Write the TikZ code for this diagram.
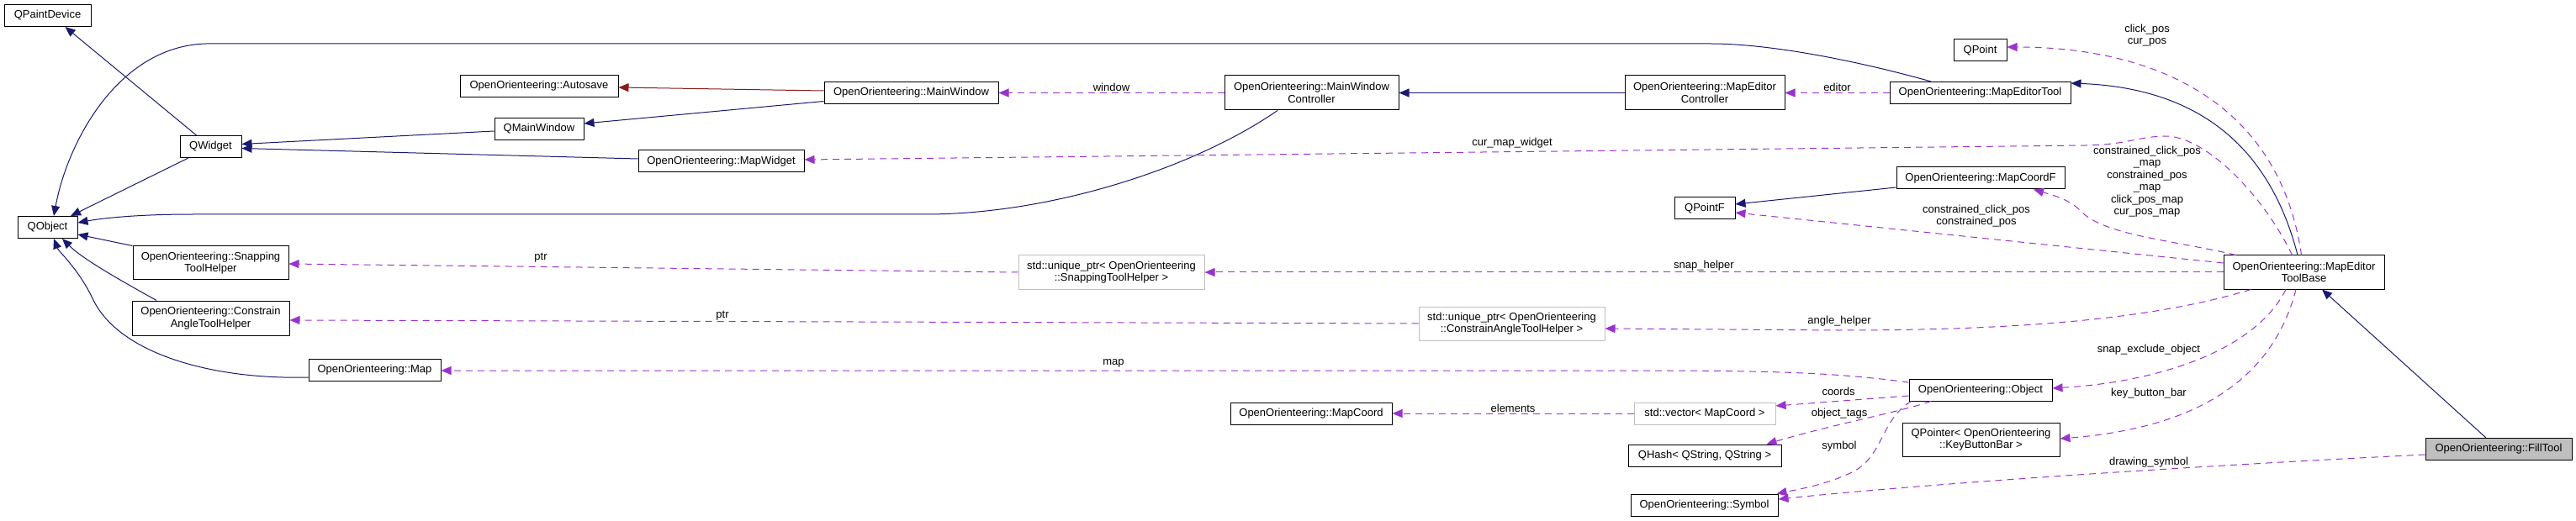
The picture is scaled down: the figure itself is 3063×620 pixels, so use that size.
\documentclass[tikz,border=0pt]{standalone}
\usepackage{fontspec}
\setmainfont{Liberation Sans}
\usetikzlibrary{arrows.meta,calc}
\definecolor{navyline}{HTML}{191970}
\definecolor{orchidline}{HTML}{9A32CD}
\definecolor{redline}{HTML}{8B1A1A}
\definecolor{greyborder}{HTML}{BFBFBF}
\newcommand{\fs}{\fontsize{13}{14.5}\selectfont}
\tikzset{
  box/.style={draw=black, fill=white, line width=1pt, inner sep=0pt, align=center, minimum height=26pt, font=\fs},
  boxtwo/.style={box, minimum height=41pt},
  gbox/.style={boxtwo, draw=greyborder},
  inh/.style={draw=navyline, line width=1pt, -{Triangle[length=12pt,width=10pt]}},
  priv/.style={draw=redline, line width=1pt, -{Triangle[length=12pt,width=10pt]}},
  use/.style={draw=orchidline, line width=1pt, dash pattern=on 8pt off 6pt, -{Triangle[length=12pt,width=10pt]}},
  lab/.style={font=\fs, inner sep=1pt, align=center}
}
\begin{document}
\begin{tikzpicture}[x=1pt,y=-1pt]
\useasboundingbox (0,0) rectangle (3063,620);
% nodes
\node[box, minimum width=103pt] (qpd) at (56.5,18.5) {QPaintDevice};
\node[box, minimum width=73pt] (qwidget) at (250.5,174.5) {QWidget};
\node[box, minimum width=71pt] (qobject) at (56.5,270.5) {QObject};
\node[box, minimum width=188pt] (autosave) at (641,102.5) {OpenOrienteering::Autosave};
\node[box, minimum width=106pt] (qmainwindow) at (641,153.5) {QMainWindow};
\node[box, minimum width=197pt] (mapwidget) at (857.5,192) {OpenOrienteering::MapWidget};
\node[boxtwo, minimum width=185pt, minimum height=40pt] (snaphelper) at (250.5,313) {OpenOrienteering::Snapping\\ToolHelper};
\node[boxtwo, minimum width=187pt] (constrainhelper) at (250.5,378.5) {OpenOrienteering::Constrain\\AngleToolHelper};
\node[box, minimum width=157pt] (map) at (445.5,440) {OpenOrienteering::Map};
\node[box, minimum width=207pt] (mainwindow) at (1083.5,110.5) {OpenOrienteering::MainWindow};
\node[boxtwo, minimum width=207pt] (mwc) at (1559.5,110.5) {OpenOrienteering::MainWindow\\Controller};
\node[gbox, minimum width=221pt, minimum height=40pt] (uptrsnap) at (1321.5,324) {std::unique\_ptr< OpenOrienteering\\::SnappingToolHelper >};
\node[box, minimum width=192pt] (mapcoord) at (1559,492) {OpenOrienteering::MapCoord};
\node[boxtwo, minimum width=190pt] (mec) at (2027,110.5) {OpenOrienteering::MapEditor\\Controller};
\node[box, minimum width=215pt] (met) at (2354.5,110.5) {OpenOrienteering::MapEditorTool};
\node[box, minimum width=63pt] (qpoint) at (2354.5,60) {QPoint};
\node[box, minimum width=200pt] (mapcoordf) at (2355,212) {OpenOrienteering::MapCoordF};
\node[box, minimum width=72pt] (qpointf) at (2027,248) {QPointF};
\node[gbox, minimum width=221pt, minimum height=40pt] (uptrconstrain) at (1797.5,385) {std::unique\_ptr< OpenOrienteering\\::ConstrainAngleToolHelper >};
\node[box, minimum width=170pt] (object) at (2355,464) {OpenOrienteering::Object};
\node[box, draw=greyborder, minimum width=168pt] (vector) at (2027,492) {std::vector< MapCoord >};
\node[box, minimum width=182pt] (qhash) at (2027,542) {QHash< QString, QString >};
\node[box, minimum width=175pt] (symbol) at (2026.5,601) {OpenOrienteering::Symbol};
\node[boxtwo, minimum width=187pt, minimum height=40pt] (keybar) at (2355.5,523) {QPointer< OpenOrienteering\\::KeyButtonBar >};
\node[boxtwo, minimum width=191pt, minimum height=40pt] (metb) at (2739.5,324) {OpenOrienteering::MapEditor\\ToolBase};
\node[box, fill=greyborder, minimum width=174pt] (filltool) at (2971,534.5) {OpenOrienteering::FillTool};
% inheritance
\draw[inh] ($(qwidget.north)+(-17,0)$) -- ($(qpd.south)+(21,0)$);
\draw[inh] ($(qwidget.south)+(-26.5,0)$) -- ($(qobject.north)+(27.5,0)$);
\draw[inh] ($(qmainwindow.west)+(0,2.5)$) -- ($(qwidget.east)+(0,-3)$);
\draw[inh] ($(mapwidget.west)+(0,-3)$) -- ($(qwidget.east)+(0,2)$);
\draw[inh] ($(mainwindow.west)+(0,10)$) -- ($(qmainwindow.east)+(0,-6.5)$);
\draw[priv] ($(mainwindow.west)+(0,-2.5)$) -- ($(autosave.east)+(0,1.5)$);
\draw[inh] ($(mwc.south)+(-40.5,0)$) .. controls (1420,200) and (1250,255) .. (1100,255) -- (230,255) .. controls (160,255) and (120,260) .. ($(qobject.east)+(0,-5.5)$);
\draw[inh] ($(met.north)+(-58.5,0)$) .. controls (2200,70) and (2100,52) .. (2034,52) -- (245,52) .. controls (140,55) and (80,170) .. ($(qobject.north)+(7.5,0)$);
\draw[inh] (snaphelper.north west) -- ($(qobject.east)+(0,8.5)$);
\draw[inh] ($(constrainhelper.north)+(-64.5,0)$) .. controls (155,340) and (100,310) .. ($(qobject.south)+(17.5,0)$);
\draw[inh] ($(map.west)+(0,9)$) .. controls (250,452) and (140,420) .. (110,355) .. controls (92,318) and (70,300) .. ($(qobject.south)+(7.5,0)$);
\draw[inh] (mec.west) -- (mwc.east);
\draw[inh] ($(metb.north)+(-7.5,0)$) .. controls (2700,180) and (2620,105) .. ($(met.east)+(0,-11.5)$);
\draw[inh] ($(mapcoordf.west)+(0,11)$) -- ($(qpointf.east)+(0,-5)$);
\draw[inh] ($(filltool.north)+(-15,0)$) -- ($(metb.south)+(21.5,0)$);
% usage
\draw[use] (mwc.west) -- node[lab, above] {window} (mainwindow.east);
\draw[use] (met.west) -- node[lab, above] {editor} (mec.east);
\draw[use] ($(metb.north)+(-3,0)$) .. controls (2710,120) and (2560,56) .. ($(qpoint.east)+(0,-4)$);
\node[lab] (lclick) at (2553,42) {click\_pos\\cur\_pos};
\draw[use] ($(metb.north)+(-14,0)$) .. controls (2690,230) and (2620,160) .. (2573,162) .. controls (2540,163) and (2530,172) .. (2480,173) -- ($(mapwidget.east)+(0,-2)$);
\node[lab] (lcmw) at (1798,170) {cur\_map\_widget};
\draw[use] ($(metb.north west)+(15,0)$) .. controls (2580,285) and (2500,280) .. (2473,250) .. controls (2460,237) and (2440,232) .. ($(mapcoordf.south)+(63,0)$);
\node[lab] (lccp) at (2553,216) {constrained\_click\_pos\\\_map\\constrained\_pos\\\_map\\click\_pos\_map\\cur\_pos\_map};
\draw[use] ($(metb.west)+(0,-11)$) -- ($(qpointf.east)+(0,5)$);
\node[lab] (lcc) at (2350,257) {constrained\_click\_pos\\constrained\_pos};
\draw[use] (metb.west) -- node[lab, above, pos=0.51] {snap\_helper} (uptrsnap.east);
\draw[use] ($(metb.south west)+(33,0)$) .. controls (2560,380) and (2400,393) .. (2187,393) -- ($(uptrconstrain.east)+(0,6)$);
\node[lab] (lah) at (2187,382) {angle\_helper};
\draw[use] ($(metb.south)+(-21.5,0)$) .. controls (2680,420) and (2560,455) .. ($(object.east)+(0,-2)$);
\node[lab] (lseo) at (2555,416) {snap\_exclude\_object};
\draw[use] ($(metb.south)+(-9.5,0)$) .. controls (2700,460) and (2600,510) .. ($(keybar.east)+(0,-1)$);
\node[lab] (lkbb) at (2555,468) {key\_button\_bar};
\draw[use] ($(filltool.west)+(0,6.5)$) .. controls (2600,555) and (2300,575) .. ($(symbol.east)+(0,-7)$);
\node[lab] (lds) at (2555,550) {drawing\_symbol};
\draw[use] (uptrsnap.west) -- ($(snaphelper.east)+(0,1)$);
\node[lab] (lptra) at (643,307) {ptr};
\draw[use] (uptrconstrain.west) -- ($(constrainhelper.east)+(0,2.5)$);
\node[lab] (lptrb) at (859,376) {ptr};
\draw[use] ($(object.west)+(0,-9)$) .. controls (2180,443) and (2100,441) .. (1950,441) -- ($(map.east)+(0,1)$);
\node[lab] (lmap) at (1324,432) {map};
\draw[use] ($(object.west)+(0,7)$) -- ($(vector.east)+(0,-9)$);
\node[lab] (lcoords) at (2186,466) {coords};
\draw[use] ($(object.south)+(-59,0)$) .. controls (2260,490) and (2180,505) .. ($(qhash.north east)+(-18,0)$);
\node[lab] (lot) at (2187,492) {object\_tags};
\draw[use] ($(object.south west)+(3,0)$) .. controls (2235,500) and (2240,545) .. (2200,563) .. controls (2170,577) and (2140,582) .. ($(symbol.north east)+(-2,0)$);
\node[lab] (lsym) at (2187,531) {symbol};
\draw[use] (vector.west) -- node[lab, above] {elements} (mapcoord.east);
\end{tikzpicture}
\end{document}
